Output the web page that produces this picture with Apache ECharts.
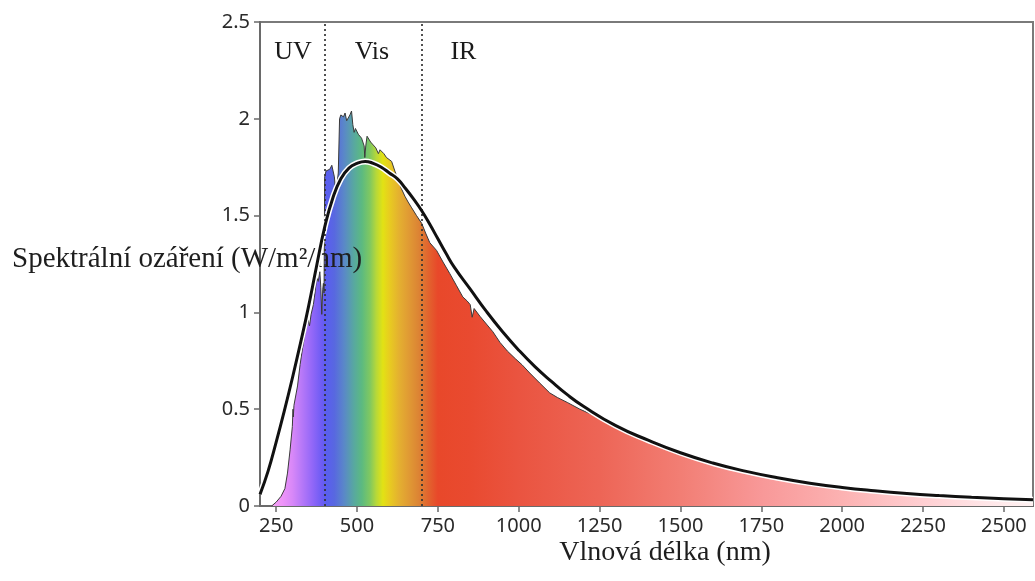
<!DOCTYPE html>
<html>
<head>
<meta charset="utf-8">
<script src="https://cdn.jsdelivr.net/npm/echarts@6/dist/echarts.min.js"></script>
<style>
html,body{margin:0;padding:0;background:#ffffff;}
#c{width:1035px;height:581px;}
</style>
</head>
<body>
<div id="c"></div>
<script>
// ---------------- DATA ----------------
// Measured solar spectral irradiance (W/m²/nm) by wavelength (nm)
const specWl = [236, 250, 265, 277, 285, 293, 300, 302, 303, 305, 308, 316, 324, 332, 339, 345, 349, 353, 358, 365, 370, 375, 380, 385, 388, 391, 394, 396, 398, 400, 404, 410, 416, 422, 426, 430, 434, 438, 442, 446, 450, 454, 458, 463, 468, 473, 478, 483, 487, 491, 495, 499, 504, 509, 514, 519, 522, 524, 527, 531, 535, 542, 550, 558, 566, 571, 576, 583, 591, 599, 607, 617, 627, 637, 648, 658, 669, 684, 700, 712, 725, 746, 766, 787, 807, 827, 840, 850, 856, 862, 880, 900, 920, 942, 965, 990, 1010, 1034, 1065, 1096, 1120, 1150, 1189, 1250, 1300, 1400, 1500, 1600, 1700, 1800, 1900, 2000, 2100, 2200, 2300, 2400, 2500, 2590];
const specVal = [0, 0.02, 0.05, 0.09, 0.17, 0.29, 0.41, 0.50, 0.46, 0.52, 0.53, 0.62, 0.73, 0.82, 0.89, 0.94, 0.96, 0.93, 0.99, 1.04, 1.10, 1.18, 1.16, 1.21, 1.13, 0.99, 1.12, 1.15, 1.10, 1.70, 1.73, 1.72, 1.74, 1.76, 1.73, 1.70, 1.62, 1.66, 1.72, 2.00, 2.02, 2.03, 2.01, 2.03, 1.99, 2.00, 2.02, 2.04, 1.97, 1.93, 1.95, 1.94, 1.92, 1.92, 1.90, 1.89, 1.86, 1.80, 1.86, 1.91, 1.90, 1.88, 1.865, 1.85, 1.82, 1.84, 1.84, 1.82, 1.80, 1.79, 1.78, 1.73, 1.685, 1.64, 1.60, 1.57, 1.54, 1.50, 1.46, 1.41, 1.36, 1.32, 1.26, 1.20, 1.14, 1.08, 1.06, 1.04, 0.975, 1.02, 0.98, 0.94, 0.90, 0.845, 0.80, 0.76, 0.73, 0.687, 0.635, 0.584, 0.56, 0.535, 0.50, 0.455, 0.41, 0.335, 0.272, 0.22, 0.178, 0.144, 0.116, 0.094, 0.077, 0.063, 0.052, 0.043, 0.036, 0.030];

// Blackbody reference curve (W/m²/nm) by wavelength (nm)
const bbWl  = [200, 225, 250, 275, 300, 325, 350, 375, 400, 425, 450, 475, 500, 525, 550, 575, 600, 625, 650, 675, 700, 725, 750, 775, 800, 850, 900, 950, 1000, 1050, 1100, 1150, 1200, 1300, 1400, 1500, 1600, 1700, 1800, 1900, 2000, 2100, 2200, 2300, 2400, 2500, 2590];
const bbVal = [0.06, 0.18, 0.33, 0.49, 0.66, 0.84, 1.03, 1.24, 1.44, 1.59, 1.69, 1.745, 1.77, 1.78, 1.77, 1.75, 1.72, 1.69, 1.64, 1.585, 1.525, 1.455, 1.38, 1.305, 1.235, 1.12, 1.005, 0.90, 0.805, 0.72, 0.645, 0.575, 0.515, 0.415, 0.34, 0.275, 0.222, 0.18, 0.146, 0.118, 0.096, 0.079, 0.065, 0.054, 0.045, 0.038, 0.032];

const xTicks = [250, 500, 750, 1000, 1250, 1500, 1750, 2000, 2250, 2500];
const bandBoundaries = [400, 700];
const bandNames = ['UV', 'Vis', 'IR'];
const bandLabelWl = [302, 546, 829];
const bandLabelLevel = 2.345;
const yTitle = 'Spektrální ozáření (W/m²/nm)';
const xTitle = 'Vlnová délka (nm)';

// ---------------- STYLE ----------------
const spectrumColors = [
  [236, '#f6a2f6'], [270, '#ee94f8'], [300, '#d888f8'], [330, '#b678f8'],
  [360, '#9468f8'], [390, '#6e5cf4'], [405, '#5a5ef0'], [430, '#5868e0'],
  [460, '#5a88c8'], [490, '#58a8a0'], [515, '#5cba80'], [540, '#80c860'],
  [560, '#b8d838'], [580, '#e2e214'], [600, '#e8cc20'], [630, '#e4b030'],
  [660, '#e09a34'], [690, '#dc8434'], [720, '#e2642e'], [750, '#e8482a'],
  [850, '#e94a30'], [1000, '#ea5440'], [1250, '#ed6556'], [1500, '#f27e74'],
  [1750, '#f89898'], [2000, '#fcb2b2'], [2250, '#ffcfd2'], [2450, '#ffe6e8'],
  [2590, '#fff2f2']
];
const axisGray = '#6a6a6a';
const tickFont = { fontFamily: 'Noto Sans', fontSize: 20, color: '#2a2a2a' };
const serif = 'Liberation Serif';

// ---------------- BUILD ----------------
const chart = echarts.init(document.getElementById('c'), null, { renderer: 'canvas' });
const wlMin = Math.min(...specWl), wlMax = Math.max(...specWl);
const fill = new echarts.graphic.LinearGradient(0, 0, 1, 0,
  spectrumColors.map(([w, c]) => ({ offset: (w - wlMin) / (wlMax - wlMin), color: c })));

const specData = specWl.map((w, i) => [w, specVal[i]]);
const bbData = bbWl.map((w, i) => [w, bbVal[i]]);

chart.setOption({
  animation: false,
  backgroundColor: '#ffffff',
  grid: { left: 260, right: 2, top: 22, bottom: 75, show: true, borderColor: '#7a7a7a', borderWidth: 2, backgroundColor: 'transparent' },
  xAxis: {
    type: 'value', min: 200, max: 2590,
    axisLine: { show: true, onZero: false, lineStyle: { color: axisGray, width: 2 } },
    axisTick: { show: true, customValues: xTicks, length: 6, lineStyle: { color: axisGray, width: 1.5 } },
    axisLabel: Object.assign({ customValues: xTicks, margin: 10, formatter: v => String(v) }, tickFont),
    splitLine: { show: false }
  },
  yAxis: {
    type: 'value', min: 0, max: 2.5, interval: 0.5,
    axisLine: { show: true, lineStyle: { color: axisGray, width: 2 } },
    axisTick: { show: true, length: 6, lineStyle: { color: axisGray, width: 1.5 } },
    axisLabel: Object.assign({ margin: 10, formatter: v => String(v) }, tickFont),
    splitLine: { show: false }
  },
  series: [
    {
      type: 'line', data: specData, symbol: 'none', z: 2,
      lineStyle: { color: '#3a3a3a', width: 1 },
      areaStyle: { color: fill, opacity: 1 },
      markLine: {
        silent: true, symbol: ['none', 'none'], label: { show: false },
        lineStyle: { type: [2, 3], color: '#333333', width: 2, opacity: 0.85 },
        data: bandBoundaries.map(b => ({ xAxis: b }))
      }
    },
    {
      type: 'line', data: bbData, symbol: 'none', smooth: true, z: 4,
      lineStyle: { color: '#ffffff', width: 6 }
    },
    {
      type: 'line', data: bbData, symbol: 'none', smooth: true, z: 5,
      lineStyle: { color: '#111111', width: 3 }
    },
    {
      type: 'scatter', z: 6, symbolSize: 0, itemStyle: { color: '#000000' },
      data: bandNames.map((n, i) => [bandLabelWl[i], bandLabelLevel, n]),
      label: { show: true, position: 'inside', formatter: p => p.value[2], fontFamily: serif, fontSize: 26, color: '#1a1a1a', opacity: 1, textBorderWidth: 0 }
    }
  ],
  graphic: [
    { type: 'text', x: 12, y: 259, z: 3,
      style: { text: yTitle, fontFamily: serif, fontSize: 29, fill: '#1e1e1e', align: 'left', verticalAlign: 'middle' } },
    { type: 'text', x: 665, y: 553, z: 3,
      style: { text: xTitle, fontFamily: serif, fontSize: 28, fill: '#1e1e1e', align: 'center', verticalAlign: 'middle' } }
  ]
});
</script>
</body>
</html>
